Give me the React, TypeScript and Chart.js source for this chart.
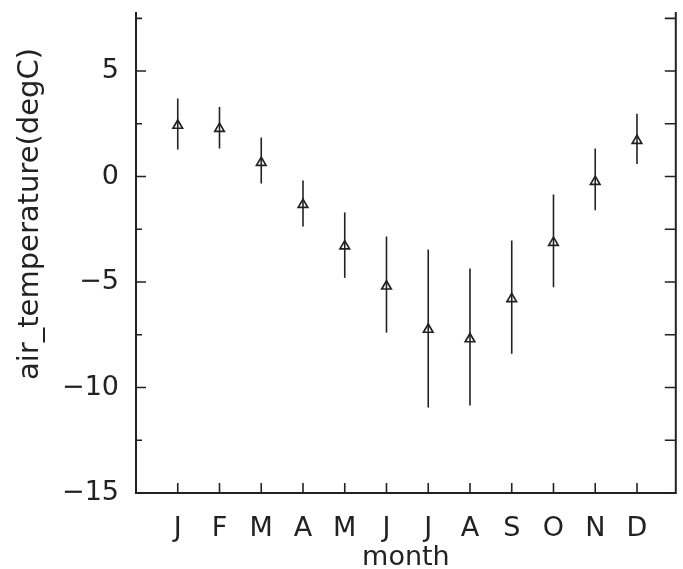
import React, { useEffect, useRef } from "react";
import { Chart, registerables } from "chart.js";

Chart.register(...registerables);

const months = ["J", "F", "M", "A", "M", "J", "J", "A", "S", "O", "N", "D"];
const means = [2.42, 2.27, 0.66, -1.33, -3.3, -5.2, -7.25, -7.7, -5.8, -3.13, -0.24, 1.7];
const highs = [3.7, 3.3, 1.85, -0.19, -1.7, -2.84, -3.46, -4.36, -3.03, -0.85, 1.33, 2.98];
const lows = [1.28, 1.33, -0.33, -2.37, -4.8, -7.4, -10.95, -10.85, -8.4, -5.25, -1.6, 0.6];
const yTicks = [-15, -12.5, -10, -7.5, -5, -2.5, 0, 2.5, 5, 7.5];
const yTitle = "air_temperature(degC)";

const INK = "#222";
const FONT = "'DejaVu Sans', sans-serif";

const errorBars = {
  id: "errorBars",
  beforeDatasetsDraw(chart: any) {
    const { ctx, scales } = chart;
    const xs = scales.x;
    const ys = scales.y;
    ctx.save();
    ctx.strokeStyle = INK;
    ctx.lineWidth = 1.6;
    months.forEach((_, i) => {
      const x = xs.getPixelForValue(i + 1);
      ctx.beginPath();
      ctx.moveTo(x, ys.getPixelForValue(lows[i]));
      ctx.lineTo(x, ys.getPixelForValue(highs[i]));
      ctx.stroke();
    });
    ctx.restore();
  },
};

const frame = {
  id: "frame",
  afterDraw(chart: any) {
    const { ctx, chartArea, scales } = chart;
    const { left, right, top, bottom } = chartArea;
    ctx.save();
    ctx.strokeStyle = INK;
    ctx.lineWidth = 2;
    ctx.beginPath();
    ctx.moveTo(left, top);
    ctx.lineTo(left, bottom);
    ctx.lineTo(right, bottom);
    ctx.lineTo(right, top);
    ctx.stroke();
    ctx.lineWidth = 1.6;
    scales.y.ticks.forEach((t: any) => {
      const y = scales.y.getPixelForValue(t.value);
      const major = Math.abs(t.value % 5) < 1e-6;
      ctx.beginPath();
      ctx.moveTo(left, y);
      ctx.lineTo(left + (major ? 10 : 6), y);
      ctx.moveTo(right, y);
      ctx.lineTo(right - 11, y);
      ctx.stroke();
    });
    scales.x.ticks.forEach((t: any) => {
      const x = scales.x.getPixelForValue(t.value);
      ctx.beginPath();
      ctx.moveTo(x, bottom);
      ctx.lineTo(x, bottom - 10);
      ctx.stroke();
    });
    // y axis title (rotated)
    ctx.fillStyle = INK;
    ctx.font = `29px ${FONT}`;
    ctx.textAlign = "center";
    ctx.textBaseline = "middle";
    ctx.translate(30, 214);
    ctx.rotate(-Math.PI / 2);
    ctx.fillText(yTitle, 0, 0);
    ctx.restore();
  },
};

export default function App() {
  const ref = useRef<HTMLCanvasElement>(null);
  useEffect(() => {
    if (!ref.current) return;
    const chart = new Chart(ref.current, {
      type: "scatter",
      data: {
        datasets: [
          {
            data: means.map((v, i) => ({ x: i + 1, y: v })),
            pointStyle: "triangle",
            pointRadius: 5.5,
            pointBorderWidth: 1.7,
            pointBorderColor: INK,
            pointBackgroundColor: "rgba(0,0,0,0)",
            showLine: false,
          },
        ],
      },
      options: {
        responsive: false,
        animation: false,
        layout: { padding: { top: 12, right: 3, left: 0, bottom: 0 } },
        plugins: { legend: { display: false }, tooltip: { enabled: false } },
        scales: {
          x: {
            type: "linear",
            min: 0,
            max: 12.93,
            grid: { display: false, drawTicks: false },
            border: { display: false },
            afterBuildTicks: (s: any) => {
              s.ticks = months.map((_, i) => ({ value: i + 1 }));
            },
            afterFit: (s: any) => {
              s.height = 76;
              s.paddingLeft = 0;
              s.paddingRight = 0;
            },
            ticks: {
              autoSkip: false,
              maxRotation: 0,
              padding: 20,
              color: INK,
              font: { family: FONT, size: 27 },
              callback: (v: any) => months[Math.round(v) - 1] ?? "",
            },
            title: {
              display: true,
              text: "month",
              color: INK,
              font: { family: FONT, size: 27, lineHeight: 0.8 },
              padding: { top: 0, bottom: 0 },
            },
          },
          y: {
            min: -15,
            max: 7.8,
            grid: { display: false, drawTicks: false },
            border: { display: false },
            afterBuildTicks: (s: any) => {
              s.ticks = yTicks.map((v) => ({ value: v }));
            },
            afterFit: (s: any) => {
              s.width = 136;
              s.paddingTop = 0;
              s.paddingBottom = 0;
            },
            ticks: {
              padding: 17,
              autoSkip: false,
              color: INK,
              font: { family: FONT, size: 27 },
              callback: (v: any) =>
                Math.abs(v % 5) < 1e-6 ? (v < 0 ? "\u2212" + Math.abs(v) : String(v)) : "",
            },
            title: { display: false },
          },
        },
      },
      plugins: [errorBars, frame],
    });
    return () => chart.destroy();
  }, []);
  return (
    <div style={{ position: "fixed", left: 0, top: 0, width: 683, height: 569, background: "#fff" }}>
      <canvas ref={ref} width={683} height={569} />
    </div>
  );
}
